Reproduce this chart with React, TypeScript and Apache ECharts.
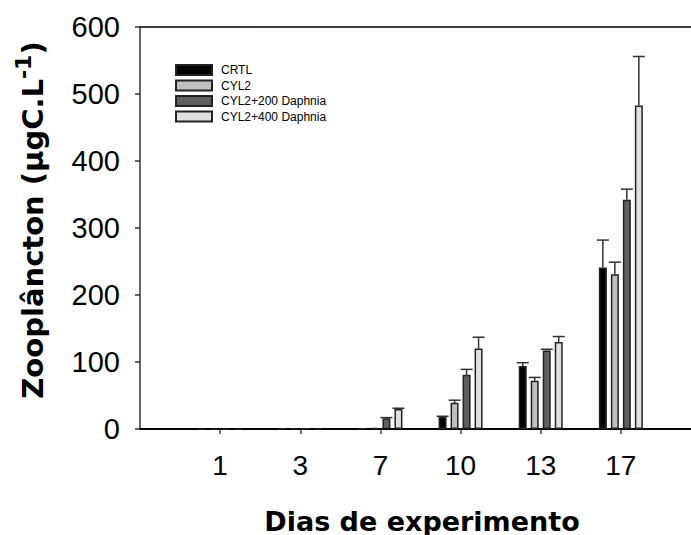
import React, { useEffect, useRef } from "react";
import * as echarts from "echarts";

const DAYS = ["1", "3", "7", "10", "13", "17"];
const SERIES_NAMES = ["CRTL", "CYL2", "CYL2+200 Daphnia", "CYL2+400 Daphnia"];
const CRTL = [0.3, 0.5, 1.0, 18, 94, 241];
const CYL2 = [0.3, 0.6, 1.5, 39, 72, 231];
const D200 = [0.3, 0.8, 16, 81, 117, 342];
const D400 = [0.3, 0.8, 30, 120, 130, 483];
const CRTL_ERR = [0, 0, 0, 1, 5, 41];
const CYL2_ERR = [0, 0, 0, 4, 5, 18];
const D200_ERR = [0, 0, 1, 8, 2, 16];
const D400_ERR = [0, 0, 1, 17, 8, 73];
const Y_MIN = 0;
const Y_MAX = 600;
const Y_STEP = 100;

const COLORS = ["#000000", "#c0c0c0", "#606060", "#e0e0e0"];

export default function App() {
  const ref = useRef<HTMLDivElement>(null);
  useEffect(() => {
    if (!ref.current) return;
    const chart = echarts.init(ref.current, null, { renderer: "svg" });
    const axisData = ["", ...DAYS, ""];
    const values = [CRTL, CYL2, D200, D400];
    const errs = [CRTL_ERR, CYL2_ERR, D200_ERR, D400_ERR];
    const pitch = 12;
    const barSeries = SERIES_NAMES.map((name, s) => ({
      name,
      type: "bar",
      barWidth: 8,
      barGap: "50%",
      data: [null, ...values[s], null],
      itemStyle: { color: COLORS[s], borderColor: "#222", borderWidth: 1.5 },
      z: 2,
    }));
    const errSeries = SERIES_NAMES.map((name, s) => ({
      name: "err-" + name,
      type: "custom",
      z: 3,
      encode: { x: 0, y: 1 },
      data: values[s].map((v, i) => [i + 1, v, errs[s][i]]),
      renderItem: (params: any, api: any) => {
        const idx = api.value(0);
        const v = api.value(1);
        const e = api.value(2);
        if (!(e > 0)) return { type: "group", children: [] };
        const base = api.coord([idx, v]);
        const top = api.coord([idx, v + e]);
        const x = base[0] + (s - 1.5) * pitch;
        const st = { stroke: "#333", lineWidth: 1.5 };
        return {
          type: "group",
          children: [
            { type: "line", shape: { x1: x, y1: base[1], x2: x, y2: top[1] }, style: st },
            { type: "line", shape: { x1: x - 6, y1: top[1], x2: x + 6, y2: top[1] }, style: st },
          ],
        };
      },
    }));
    chart.setOption({
      animation: false,
      backgroundColor: "#ffffff",
      grid: { left: 140, top: 27, bottom: 106, width: 561, outerBoundsMode: "none", containLabel: false },
      legend: {
        data: SERIES_NAMES,
        orient: "vertical",
        left: 175,
        top: 64,
        padding: 0,
        itemWidth: 36,
        itemHeight: 10,
        itemGap: 3.5,
        icon: "rect",
        textStyle: {
          fontFamily: "Liberation Sans, Arial, sans-serif",
          fontSize: 12,
          color: "#000",
          padding: [0, 0, 0, 4],
        },
      },
      xAxis: [
        {
          type: "category",
          data: axisData,
          boundaryGap: false,
          axisLine: { lineStyle: { color: "#000", width: 2 } },
          axisTick: {
            show: true,
            length: 5,
            interval: (index: number) => index > 0 && index < axisData.length - 1,
            lineStyle: { color: "#444", width: 1.5 },
          },
          axisLabel: {
            fontFamily: "Liberation Sans, Arial, sans-serif",
            fontSize: 28,
            color: "#000",
            margin: 22,
            interval: 0,
          },
          splitLine: { show: false },
        },
        {
          type: "category",
          data: axisData,
          position: "top",
          boundaryGap: false,
          axisLine: { show: true, lineStyle: { color: "#000", width: 1.5 } },
          axisTick: { show: false },
          axisLabel: { show: false },
          splitLine: { show: false },
        },
      ],
      yAxis: {
        type: "value",
        min: Y_MIN,
        max: Y_MAX,
        interval: Y_STEP,
        axisLine: { show: true, lineStyle: { color: "#333", width: 1.5 } },
        axisTick: { show: true, length: 5, lineStyle: { color: "#333", width: 1.5 } },
        axisLabel: {
          fontFamily: "Liberation Sans, Arial, sans-serif",
          fontSize: 29,
          color: "#000",
          margin: 20,
        },
        splitLine: { show: false },
      },
      graphic: [
        {
          type: "text",
          x: 422,
          y: 521,
          style: {
            text: "Dias de experimento",
            font: "bold 27px 'DejaVu Sans', sans-serif",
            fill: "#000",
            textAlign: "center",
            textVerticalAlign: "middle",
          },
        },
        {
          type: "text",
          x: 33,
          y: 220,
          rotation: Math.PI / 2,
          style: {
            text: "{m|Zooplâncton (µgC.L}{s|-1}{m|)}",
            textAlign: "center",
            textVerticalAlign: "middle",
            rich: {
              m: {
                fontFamily: "DejaVu Sans",
                fontWeight: "bold",
                fontSize: 29,
                lineHeight: 42,
                color: "#000",
              },
              s: {
                fontFamily: "DejaVu Sans",
                fontWeight: "bold",
                fontSize: 22,
                lineHeight: 22,
                verticalAlign: "top",
                color: "#000",
              },
            },
          },
        },
      ],
      series: [...barSeries, ...errSeries],
    });
    return () => chart.dispose();
  }, []);
  return (
    <div
      ref={ref}
      style={{ position: "absolute", left: 0, top: 0, width: 691, height: 535 }}
    />
  );
}
